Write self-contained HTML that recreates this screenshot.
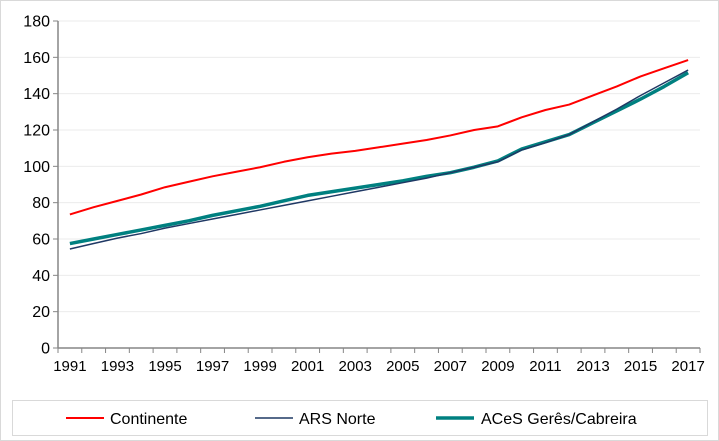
<!DOCTYPE html>
<html><head><meta charset="utf-8"><style>
body{margin:0;background:#fff}
svg{display:block;font-family:"Liberation Sans",Arial,sans-serif}
</style></head><body>
<svg id="chart" width="719" height="441">
<rect x="0.5" y="0.5" width="718" height="440" fill="#fff" stroke="#d9d9d9"/>
<g id="grid"></g><g id="axes"></g><g id="series"></g>
<g>
<rect x="12.5" y="400.5" width="695" height="35" fill="#fff" stroke="#d9d9d9"/>
<g><line x1="66" y1="418" x2="104" y2="418" stroke="#ff0000" stroke-width="2"/><text x="110" y="424" font-size="16" fill="#000">Continente</text></g>
<g><line x1="255" y1="418" x2="293" y2="418" stroke="#1f3864" stroke-width="1.5"/><text x="299" y="424" font-size="16" fill="#000">ARS Norte</text></g>
<g><line x1="436" y1="418" x2="474" y2="418" stroke="#008080" stroke-width="3.5"/><text x="481" y="424" font-size="16" fill="#000">ACeS Gerês/Cabreira</text></g>
</g>
</svg>
<script>
const years=[1991,1992,1993,1994,1995,1996,1997,1998,1999,2000,2001,2002,2003,2004,2005,2006,2007,2008,2009,2010,2011,2012,2013,2014,2015,2016,2017];
const continente=[73.5,77.5,81,84.5,88.5,91.5,94.5,97,99.5,102.5,105,107,108.5,110.5,112.5,114.5,117,120,122,127,131,134,139,144,149.5,154,158.5];
const arsNorte=[54.5,57.5,60.5,63,66,68.5,71,73.5,76,78.5,81,83.5,86,88.5,91,93.5,96.5,99.5,102.5,109,113,117.5,124.5,131.5,139,146,153];
const aces=[57.5,60,62.5,65,67.5,70,73,75.5,78,81,84,86,88,90,92,94.5,96.5,99.5,103,109.5,113.5,117.5,124,130.5,137,144,151.5];
const yTicks=[0,20,40,60,80,100,120,140,160,180];
const NS="http://www.w3.org/2000/svg";
const L=58,R=700,T=21,B=348;
const step=(R-L)/years.length;
const xs=i=>L+step*(i+0.5);
const ys=v=>B-(v/180)*(B-T);
function mk(tag,attrs,parent,text){const e=document.createElementNS(NS,tag);for(const k in attrs)e.setAttribute(k,attrs[k]);if(text!==undefined)e.textContent=text;parent.appendChild(e);return e;}
const grid=document.getElementById('grid'),axes=document.getElementById('axes'),series=document.getElementById('series');
yTicks.forEach(v=>{
 if(v>0){const g=mk('line',{x1:L,x2:R,y1:ys(v),y2:ys(v),stroke:'#ebebeb','stroke-width':1},grid);
 
 }
 const t=mk('text',{x:L-8,y:ys(v)+5.5,'text-anchor':'end','font-size':16,fill:'#000'},axes,v);
 
 
 const tk=mk('line',{x1:L-5,x2:L,y1:ys(v),y2:ys(v),stroke:'#868686'},axes);
 
 
});
const ya=mk('line',{x1:L,x2:L,y1:T,y2:B,stroke:'#868686','stroke-width':1.5},axes);


const xa=mk('line',{x1:L,x2:R,y1:B,y2:B,stroke:'#868686','stroke-width':1.5},axes);


for(let i=0;i<=years.length;i++){const tk=mk('line',{x1:L+step*i,x2:L+step*i,y1:B,y2:B+5,stroke:'#868686'},axes);
 
 }
years.forEach((y,i)=>{if(i%2===0){const t=mk('text',{x:xs(i),y:B+23,'text-anchor':'middle','font-size':15,fill:'#000'},axes,y);
 
 }});
function line(data,color,w,name){const p=mk('polyline',{points:data.map((v,i)=>xs(i)+','+ys(v)).join(' '),fill:'none',stroke:color,'stroke-width':w,'stroke-linejoin':'round'},series);
 
 }
line(continente,'#ff0000',2,'series-continente');
line(aces,'#008080',3.5,'series-aces-geres-cabreira');
line(arsNorte,'#1f3864',1.5,'series-ars-norte');
</script>
</body></html>
